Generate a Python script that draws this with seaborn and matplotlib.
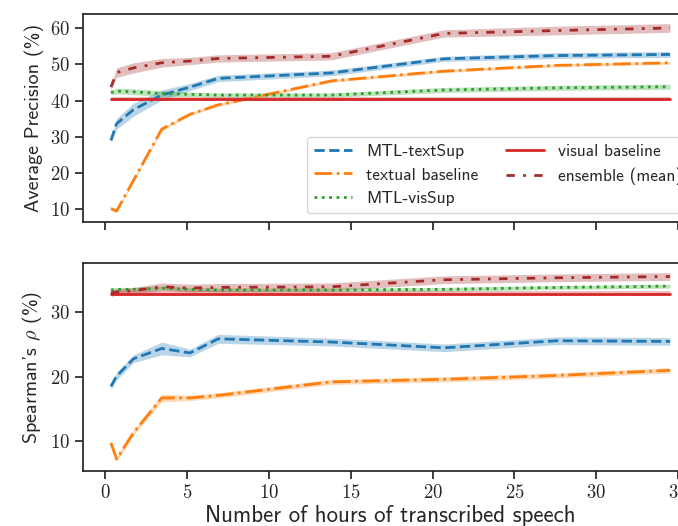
"""Average precision and Spearman's rho vs hours of transcribed speech."""

import matplotlib
matplotlib.use("Agg")
import matplotlib.pyplot as plt
import numpy as np
import pandas as pd
import seaborn as sns

# hours of transcribed speech used for training
hours = [0.345, 0.69, 1.725, 3.45, 5.175, 6.9, 13.8, 20.7, 27.6, 34.5]

# Average precision (%) - mean and spread
ap_textsup = [29.0, 33.6, 37.5, 41.5, 43.7, 46.1, 47.6, 51.5, 52.4, 52.7]
ap_textsup_sd = [0.6, 1.5, 1.8, 1.4, 1.0, 0.9, 0.8, 0.7, 0.8, 0.8]
ap_textual = [10.2, 9.5, 18.0, 32.1, 36.2, 38.8, 45.4, 48.1, 49.7, 50.4]
ap_textual_sd = [0.4, 0.4, 0.4, 0.5, 0.4, 0.4, 0.4, 0.4, 0.4, 0.4]
ap_vissup = [42.2, 42.6, 42.4, 41.9, 41.7, 41.5, 41.5, 42.9, 43.5, 43.8]
ap_vissup_sd = [0.6, 0.8, 0.8, 0.8, 0.6, 0.6, 0.6, 0.7, 0.7, 0.7]
ap_visual = [40.5] * 10
ap_visual_sd = [0.5] * 10
ap_ensemble = [43.7, 47.7, 49.0, 50.4, 50.9, 51.6, 52.2, 58.5, 59.3, 60.0]
ap_ensemble_sd = [0.8, 1.3, 1.4, 1.2, 1.0, 1.0, 1.0, 1.0, 1.2, 1.2]

# Spearman's rho (%) - mean and spread
sp_textsup = [18.5, 20.1, 22.8, 24.4, 23.7, 25.9, 25.4, 24.5, 25.6, 25.5]
sp_textsup_sd = [0.5, 0.6, 0.6, 1.0, 0.6, 0.7, 0.6, 0.6, 0.6, 0.6]
sp_textual = [9.7, 7.2, 11.3, 16.7, 16.7, 17.1, 19.2, 19.6, 20.2, 21.0]
sp_textual_sd = [0.4, 0.4, 0.4, 0.6, 0.4, 0.4, 0.4, 0.4, 0.4, 0.4]
sp_vissup = [33.5, 33.6, 33.6, 33.8, 33.6, 33.5, 33.5, 33.6, 33.9, 34.1]
sp_vissup_sd = [0.3] * 10
sp_visual = [32.9] * 10
sp_visual_sd = [0.4] * 10
sp_ensemble = [33.0, 33.2, 33.4, 34.0, 33.8, 33.9, 34.0, 35.1, 35.4, 35.6]
sp_ensemble_sd = [0.5, 0.5, 0.5, 0.6, 0.6, 0.6, 0.6, 0.6, 0.6, 0.6]

models = ["MTL-textSup", "textual baseline", "MTL-visSup",
          "visual baseline", "ensemble (mean)"]
colors = ["#1f77b4", "#ff7f0e", "#2ca02c", "#d62728", "#a52a2a"]
styles = ["--", "-.", ":", "-", (0, (3, 3, 1, 3))]

sns.set_theme(style="ticks")
plt.rcParams["font.family"] = ["cmss10", "DejaVu Sans"]
plt.rcParams["mathtext.fontset"] = "cm"
plt.rcParams["axes.formatter.use_mathtext"] = True
plt.rcParams["axes.unicode_minus"] = False

fig = plt.figure(figsize=(6.78, 5.26), dpi=100)
ax_top = fig.add_axes([0.1224, 0.578, 0.907, 0.395])
ax_bot = fig.add_axes([0.1224, 0.1046, 0.907, 0.395])

panels = [
    (ax_top, [ap_textsup, ap_textual, ap_vissup, ap_visual, ap_ensemble],
     [ap_textsup_sd, ap_textual_sd, ap_vissup_sd, ap_visual_sd, ap_ensemble_sd]),
    (ax_bot, [sp_textsup, sp_textual, sp_vissup, sp_visual, sp_ensemble],
     [sp_textsup_sd, sp_textual_sd, sp_vissup_sd, sp_visual_sd, sp_ensemble_sd]),
]

for ax, means, sds in panels:
    for name, m, s, c, ls in zip(models, means, sds, colors, styles):
        df = pd.DataFrame({"hours": hours, "value": m})
        lo = np.array(m) - np.array(s)
        hi = np.array(m) + np.array(s)
        ax.fill_between(hours, lo, hi, color=c, alpha=0.3, linewidth=0)
        sns.lineplot(data=df, x="hours", y="value", ax=ax, color=c,
                     linestyle=ls, linewidth=2, label=name)
    ax.set_xlabel("")
    ax.set_ylabel("")
    ax.set_xticks([0, 5, 10, 15, 20, 25, 30, 35])
    for sp in ax.spines.values():
        sp.set_color("0.15")

ax_top.set_yticks([10, 20, 30, 40, 50, 60])
ax_bot.set_yticks([10, 20, 30])
for ax in (ax_top, ax_bot):
    for lab in ax.get_xticklabels() + ax.get_yticklabels():
        lab.set_fontfamily("cmr10")
        lab.set_fontsize(13.5)
ax_top.tick_params(labelbottom=False)

ax_top.set_ylabel("Average Precision (%)", fontsize=14.5)
ax_bot.set_ylabel(r"Spearman's $\rho$ (%)", fontsize=14.5)
ax_bot.set_xlabel("Number of hours of transcribed speech", fontsize=16.5,
                  labelpad=2)
ax_top.yaxis.set_label_coords(-0.064, 0.5)
ax_bot.yaxis.set_label_coords(-0.064, 0.5)

ax_top.legend(loc="lower right", ncol=2, fontsize=12.5, frameon=True,
              handlelength=2.2, columnspacing=1.6)
ax_bot.get_legend().remove()

fig.savefig("out.png", dpi=100)
